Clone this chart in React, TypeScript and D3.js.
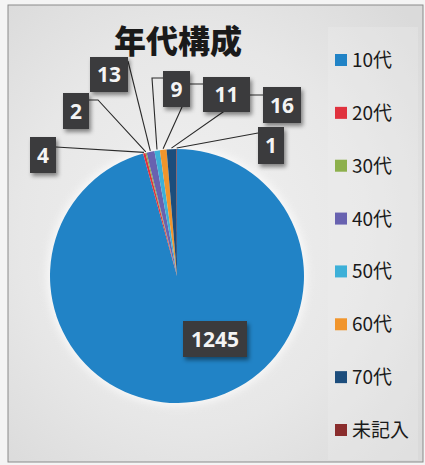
import * as d3 from 'd3';

const categories = ['10代', '20代', '30代', '40代', '50代', '60代', '70代', '未記入'];
const counts = [1245, 4, 2, 13, 9, 11, 16, 1];
const colors = ['#2183c6', '#e0323e', '#8db04c', '#6862b0', '#3db0d8', '#f1952c', '#1c4d7c', '#8a2d2d'];
const title = '年代構成';

// label boxes (layout only): x, y, w, h, and extra bend points for the leader lines
const labelBoxes = [
  { x: 183, y: 321, w: 64, h: 36, path: [] as [number, number][] },
  { x: 30, y: 137, w: 26, h: 36, path: [[56, 147]] as [number, number][] },
  { x: 63, y: 93, w: 26, h: 36, path: [[89, 100], [98, 100]] as [number, number][] },
  { x: 90, y: 57, w: 38, h: 35, path: [[128, 61]] as [number, number][] },
  { x: 163, y: 71, w: 27, h: 36, path: [[163, 78], [152, 78]] as [number, number][] },
  { x: 203, y: 77, w: 47, h: 35, path: [[203, 84], [189, 84], [182, 107]] as [number, number][] },
  { x: 263, y: 87, w: 38, h: 36, path: [[263, 95], [250, 95], [223, 112]] as [number, number][] },
  { x: 258, y: 127, w: 26, h: 37, path: [[258, 133]] as [number, number][] },
];

const W = 425;
const H = 465;
const cx = 177;
const cy = 276;
const r = 127;

export default function App() {
  const pie = d3.pie<number>().sort(null).value((d) => d);
  const arcs = pie(counts);
  const arc = d3.arc<d3.PieArcDatum<number>>().innerRadius(0).outerRadius(r);
  const line = d3.line();

  const legendY = d3.scalePoint<string>().domain(categories).range([60, 430]);

  return (
    <svg width={W} height={H} style={{ position: 'absolute', left: 0, top: 0 }}>
      <defs>
        <radialGradient id="bg" cx="45%" cy="50%" r="70%">
          <stop offset="0%" stopColor="#f1f1f1" />
          <stop offset="60%" stopColor="#e7e7e7" />
          <stop offset="100%" stopColor="#dadada" />
        </radialGradient>
        <filter id="sh" x="-30%" y="-30%" width="160%" height="160%">
          <feDropShadow dx="2" dy="3" stdDeviation="2" floodColor="#000" floodOpacity="0.45" />
        </filter>
        <filter id="glow" x="-20%" y="-20%" width="140%" height="140%">
          <feGaussianBlur stdDeviation="4" />
        </filter>
      </defs>
      <rect x={0} y={0} width={W} height={H} fill="#f4f4f4" />
      <rect x={8} y={5} width={415} height={457} fill="url(#bg)" stroke="#8a8a8a" strokeWidth={1} />
      <rect x={328} y={27} width={90} height={433} fill="#f0f0f0" opacity={0.3} />

      <text
        x={178}
        y={53}
        textAnchor="middle"
        fontFamily="'Noto Sans CJK JP', sans-serif"
        fontWeight={900}
        fontSize={32}
        fill="#1a1a1a"
      >
        {title}
      </text>

      <circle cx={cx} cy={cy} r={r + 3} fill="#ffffff" opacity={0.7} filter="url(#glow)" />
      <g transform={`translate(${cx},${cy})`}>
        {arcs.map((a, i) => (
          <path key={categories[i]} d={arc(a) ?? ''} fill={colors[i]} />
        ))}
      </g>

      {/* leader lines */}
      <g fill="none" stroke="#2a2a2a" strokeWidth={1.1}>
        {arcs.map((a, i) => {
          const box = labelBoxes[i];
          if (!box.path.length) return null;
          const mid = (a.startAngle + a.endAngle) / 2;
          const end: [number, number] = [cx + (r + 1) * Math.sin(mid), cy - (r + 1) * Math.cos(mid)];
          return <path key={categories[i]} d={line([...box.path, end]) ?? ''} />;
        })}
      </g>

      {/* data labels */}
      {counts.map((v, i) => {
        const box = labelBoxes[i];
        return (
          <g key={categories[i]}>
            <rect x={box.x} y={box.y} width={box.w} height={box.h} fill="#3a3a3c" filter="url(#sh)" />
            <text
              x={box.x + box.w / 2}
              y={box.y + box.h / 2 + 7.5}
              textAnchor="middle"
              fontFamily="'Open Sans', sans-serif"
              fontWeight={700}
              fontSize={21}
              fill="#f4f4f4"
            >
              {v}
            </text>
          </g>
        );
      })}

      {/* legend */}
      {categories.map((c, i) => {
        const y = legendY(c) ?? 0;
        return (
          <g key={c}>
            <rect x={335} y={y - 6} width={12} height={12} fill={colors[i]} />
            <text
              x={352}
              y={y + 7}
              fontFamily="'Noto Sans CJK JP', sans-serif"
              fontSize={19}
              fill="#1a1a1a"
            >
              {c}
            </text>
          </g>
        );
      })}
    </svg>
  );
}
